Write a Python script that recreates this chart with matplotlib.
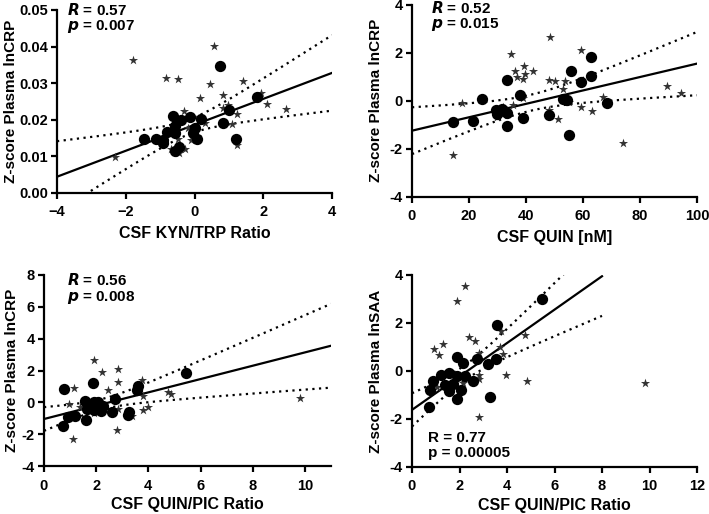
import numpy as np
import matplotlib
matplotlib.use("Agg")
import matplotlib.pyplot as plt

plt.rcParams['font.family'] = ['Liberation Sans', 'DejaVu Sans']
plt.rcParams['font.weight'] = 'bold'

# panel A: CSF KYN/TRP vs lnCRP
a_circ_x = [0.74, 1.81, 1.01, 0.84, 1.21, -0.63, -0.13, -0.40, -0.56, -0.79, 0.20,
            0.02, -0.03, 0.06, -1.47, -1.12, -0.91, -0.56, -0.46, -0.57, -0.91]
a_circ_y = [0.0347, 0.0263, 0.0227, 0.0192, 0.0147, 0.0210, 0.0209, 0.0200, 0.0183, 0.0167, 0.0201,
            0.0178, 0.0163, 0.0147, 0.0148, 0.0147, 0.0136, 0.0165, 0.0127, 0.0116, 0.0145]
a_star_x = [0.58, -1.80, -0.83, -0.48, 0.45, 1.42, 0.16, 0.84, 1.92, 2.12, 2.66, 0.84, 0.97,
            1.23, -0.31, 0.31, 1.09, -0.19, -0.11, -0.48, -0.69, -0.27, -0.44, 1.25, -2.30, 0.06]
a_star_y = [0.0402, 0.0363, 0.0314, 0.0311, 0.0298, 0.0305, 0.0260, 0.0267, 0.0272, 0.0243, 0.0229, 0.0232, 0.0240,
            0.0216, 0.0223, 0.0190, 0.0189, 0.0178, 0.0145, 0.0147, 0.0121, 0.0121, 0.0110, 0.0130, 0.0099, 0.0156]

# panel B: CSF QUIN vs lnCRP
b_circ_x = [14.5, 21.3, 24.4, 33.2, 37.9, 29.5, 31.5, 29.7, 33.2, 33.2, 38.8,
            48.0, 53.1, 54.5, 55.2, 55.7, 59.4, 62.7, 62.9, 68.3, 31.0]
b_circ_y = [-0.90, -0.84, 0.08, 0.85, 0.22, -0.40, -0.37, -0.56, -0.53, -1.06, -0.73,
            -0.62, 0.08, 0.02, -1.43, 1.24, 0.77, 1.02, 1.83, -0.09, -0.45]
b_star_x = [48.4, 59.4, 34.6, 39.3, 36.3, 42.3, 36.7, 39.8, 39.1, 48.2, 50.3, 53.8, 53.1, 39.1,
            17.5, 35.3, 32.0, 29.9, 59.4, 63.2, 67.1, 51.2, 48.2, 55.0, 89.4, 94.5, 74.2, 14.5]
b_star_y = [2.66, 2.10, 1.94, 1.44, 1.24, 1.22, 0.99, 1.10, 0.91, 0.85, 0.80, 0.83, 0.47, 0.10,
            -0.09, -0.18, -0.26, -0.70, -0.26, -0.45, 0.16, -0.78, -0.40, -0.06, 0.60, 0.30, -1.76, -2.28]

# panel C: CSF QUIN/PIC vs lnCRP
c_circ_x = [0.77, 0.74, 1.87, 5.46, 3.59, 3.56, 2.72, 1.59, 1.90, 2.08, 2.03,
            1.64, 1.90, 2.20, 2.59, 3.26, 3.23, 0.92, 1.20, 1.62, 2.25]
c_circ_y = [0.84, -1.47, 1.21, 1.84, 1.01, 0.75, 0.21, 0.08, 0.04, 0.00, -0.21,
            -0.42, -0.50, -0.55, -0.63, -0.59, -0.80, -0.92, -0.88, -1.09, -0.20]
c_star_x = [1.90, 2.23, 2.85, 2.82, 3.74, 2.44, 1.15, 3.80, 4.77, 4.85, 0.95, 1.38,
            2.82, 1.90, 3.38, 3.80, 3.97, 2.79, 1.10, 9.82]
c_star_y = [2.64, 1.93, 2.09, 1.26, 1.42, 0.79, 0.92, 0.42, 0.67, 0.54, -0.09, -0.30,
            -0.42, -0.67, -0.84, -0.50, -0.30, -1.76, -2.31, 0.29]

# panel D: CSF QUIN/PIC vs lnSAA
d_circ_x = [5.47, 3.59, 1.91, 2.13, 2.72, 3.20, 3.54, 1.21, 1.57, 1.88, 2.22,
            0.90, 1.74, 2.58, 0.76, 1.57, 2.08, 1.91, 3.28, 0.73, 1.40]
d_circ_y = [2.99, 1.90, 0.60, 0.32, 0.52, 0.29, 0.49, -0.15, -0.10, -0.21, -0.21,
            -0.43, -0.54, -0.43, -0.79, -0.85, -0.79, -1.18, -1.07, -1.48, -0.60]
d_star_x = [2.25, 1.91, 0.93, 1.32, 1.15, 2.41, 2.64, 3.73, 4.74, 3.71, 3.82, 2.81,
            3.96, 4.83, 2.81, 2.83, 2.16, 1.04, 2.81, 9.82]
d_star_y = [3.54, 2.90, 0.90, 1.13, 0.68, 1.40, 1.24, 1.65, 1.52, 0.99, 0.71, 0.74,
            -0.18, -0.40, -0.18, -0.32, -0.48, -0.68, -1.93, -0.51]

panels = [
    dict(cx=a_circ_x, cy=a_circ_y, sx=a_star_x, sy=a_star_y, xlim=(-4, 4), ylim=(0, 0.05),
         xt=[-4, -2, 0, 2, 4], yt=[0, 0.01, 0.02, 0.03, 0.04, 0.05], yfmt='{:.2f}', fit=(-4, 4),
         xlab='CSF KYN/TRP Ratio', ylab='Z-score Plasma lnCRP', r='0.57', p='0.007', italic=True,
         pos=[57, 10, 332, 193], ylx=-0.168, xlp=5, txt=(0.037, 0.975, 0.89)),
    dict(cx=b_circ_x, cy=b_circ_y, sx=b_star_x, sy=b_star_y, xlim=(0, 100), ylim=(-4, 4),
         xt=[0, 20, 40, 60, 80, 100], yt=[-4, -2, 0, 2, 4], yfmt='{:g}', fit=(0, 100),
         xlab='CSF QUIN [nM]', ylab='Z-score Plasma lnCRP', r='0.52', p='0.015', italic=True,
         pos=[412, 4.5, 697, 196.5], ylx=-0.128, xlp=5, txt=(0.066, 0.955, 0.878)),
    dict(cx=c_circ_x, cy=c_circ_y, sx=c_star_x, sy=c_star_y, xlim=(0, 11), ylim=(-4, 8),
         xt=[0, 2, 4, 6, 8, 10], yt=[-4, -2, 0, 2, 4, 6, 8], yfmt='{:g}', fit=(0, 11),
         xlab='CSF QUIN/PIC Ratio', ylab='Z-score Plasma lnCRP', r='0.56', p='0.008', italic=True,
         pos=[44, 275, 331, 466], ylx=-0.113, xlp=3, txt=(0.081, 0.948, 0.864)),
    dict(cx=d_circ_x, cy=d_circ_y, sx=d_star_x, sy=d_star_y, xlim=(0, 12), ylim=(-4, 4),
         xt=[0, 2, 4, 6, 8, 10, 12], yt=[-4, -2, 0, 2, 4], yfmt='{:g}', fit=(0, 8),
         xlab='CSF QUIN/PIC Ratio', ylab='Z-score Plasma lnSAA', r='0.77', p='0.00005', italic=False,
         pos=[412, 275, 697, 467], ylx=-0.128, xlp=3, txt=(0.056, 0.132, 0.054)),
]

W, H = 709, 514
fig = plt.figure(figsize=(W / 100, H / 100), dpi=100)

for pn in panels:
    x0, y0, x1, y1 = pn['pos']
    ax = fig.add_axes([x0 / W, 1 - y1 / H, (x1 - x0) / W, (y1 - y0) / H])
    cx, cy = np.array(pn['cx']), np.array(pn['cy'])

    # linear fit on the circle group with 95% confidence band
    n = len(cx)
    slope, icpt = np.polyfit(cx, cy, 1)
    resid = cy - (icpt + slope * cx)
    s = np.sqrt(np.sum(resid ** 2) / (n - 2))
    xx = np.linspace(pn['fit'][0], pn['fit'][1], 200)
    yy = icpt + slope * xx
    half = 2.093 * s * np.sqrt(1 / n + (xx - cx.mean()) ** 2 / np.sum((cx - cx.mean()) ** 2))
    ax.plot(xx, yy, color='black', lw=1.6, zorder=3)
    ax.plot(xx, yy + half, color='black', lw=1.6, ls=(0, (1, 2.0)), zorder=3)
    ax.plot(xx, yy - half, color='black', lw=1.6, ls=(0, (1, 2.0)), zorder=3)

    ax.scatter(pn['sx'], pn['sy'], marker='*', s=48, color='#333333', linewidths=0, zorder=4)
    ax.scatter(cx, cy, marker='o', s=66, color='black', linewidths=0, zorder=5)

    ax.set_xlim(*pn['xlim'])
    ax.set_ylim(*pn['ylim'])
    ax.set_xticks(pn['xt'])
    ax.set_yticks(pn['yt'])
    ax.set_yticklabels([pn['yfmt'].format(v) for v in pn['yt']])
    for sp in ['top', 'right']:
        ax.spines[sp].set_visible(False)
    for sp in ['left', 'bottom']:
        ax.spines[sp].set_linewidth(1.6)
    ax.tick_params(width=1.6, length=4, labelsize=10.5)
    ax.tick_params(axis='x', pad=5)
    ax.tick_params(axis='y', pad=2.5)
    ax.set_xlabel(pn['xlab'], fontsize=11.5, fontweight='bold', labelpad=pn['xlp'])
    ax.set_ylabel(pn['ylab'], fontsize=11, fontweight='bold', va='center')
    ax.yaxis.set_label_coords(pn['ylx'], 0.5)

    tx, ry, py = pn['txt']
    if pn['italic']:
        rlab = r'$\bfit{R}$ = ' + pn['r']
        plab = r'$\bfit{p}$ = ' + pn['p']
    else:
        rlab = 'R = ' + pn['r']
        plab = 'p = ' + pn['p']
    ax.text(tx, ry, rlab, transform=ax.transAxes, fontsize=11, fontweight='bold',
            va='baseline', ha='left')
    ax.text(tx, py, plab, transform=ax.transAxes, fontsize=11, fontweight='bold',
            va='baseline', ha='left')

fig.savefig('out.png', dpi=100)
